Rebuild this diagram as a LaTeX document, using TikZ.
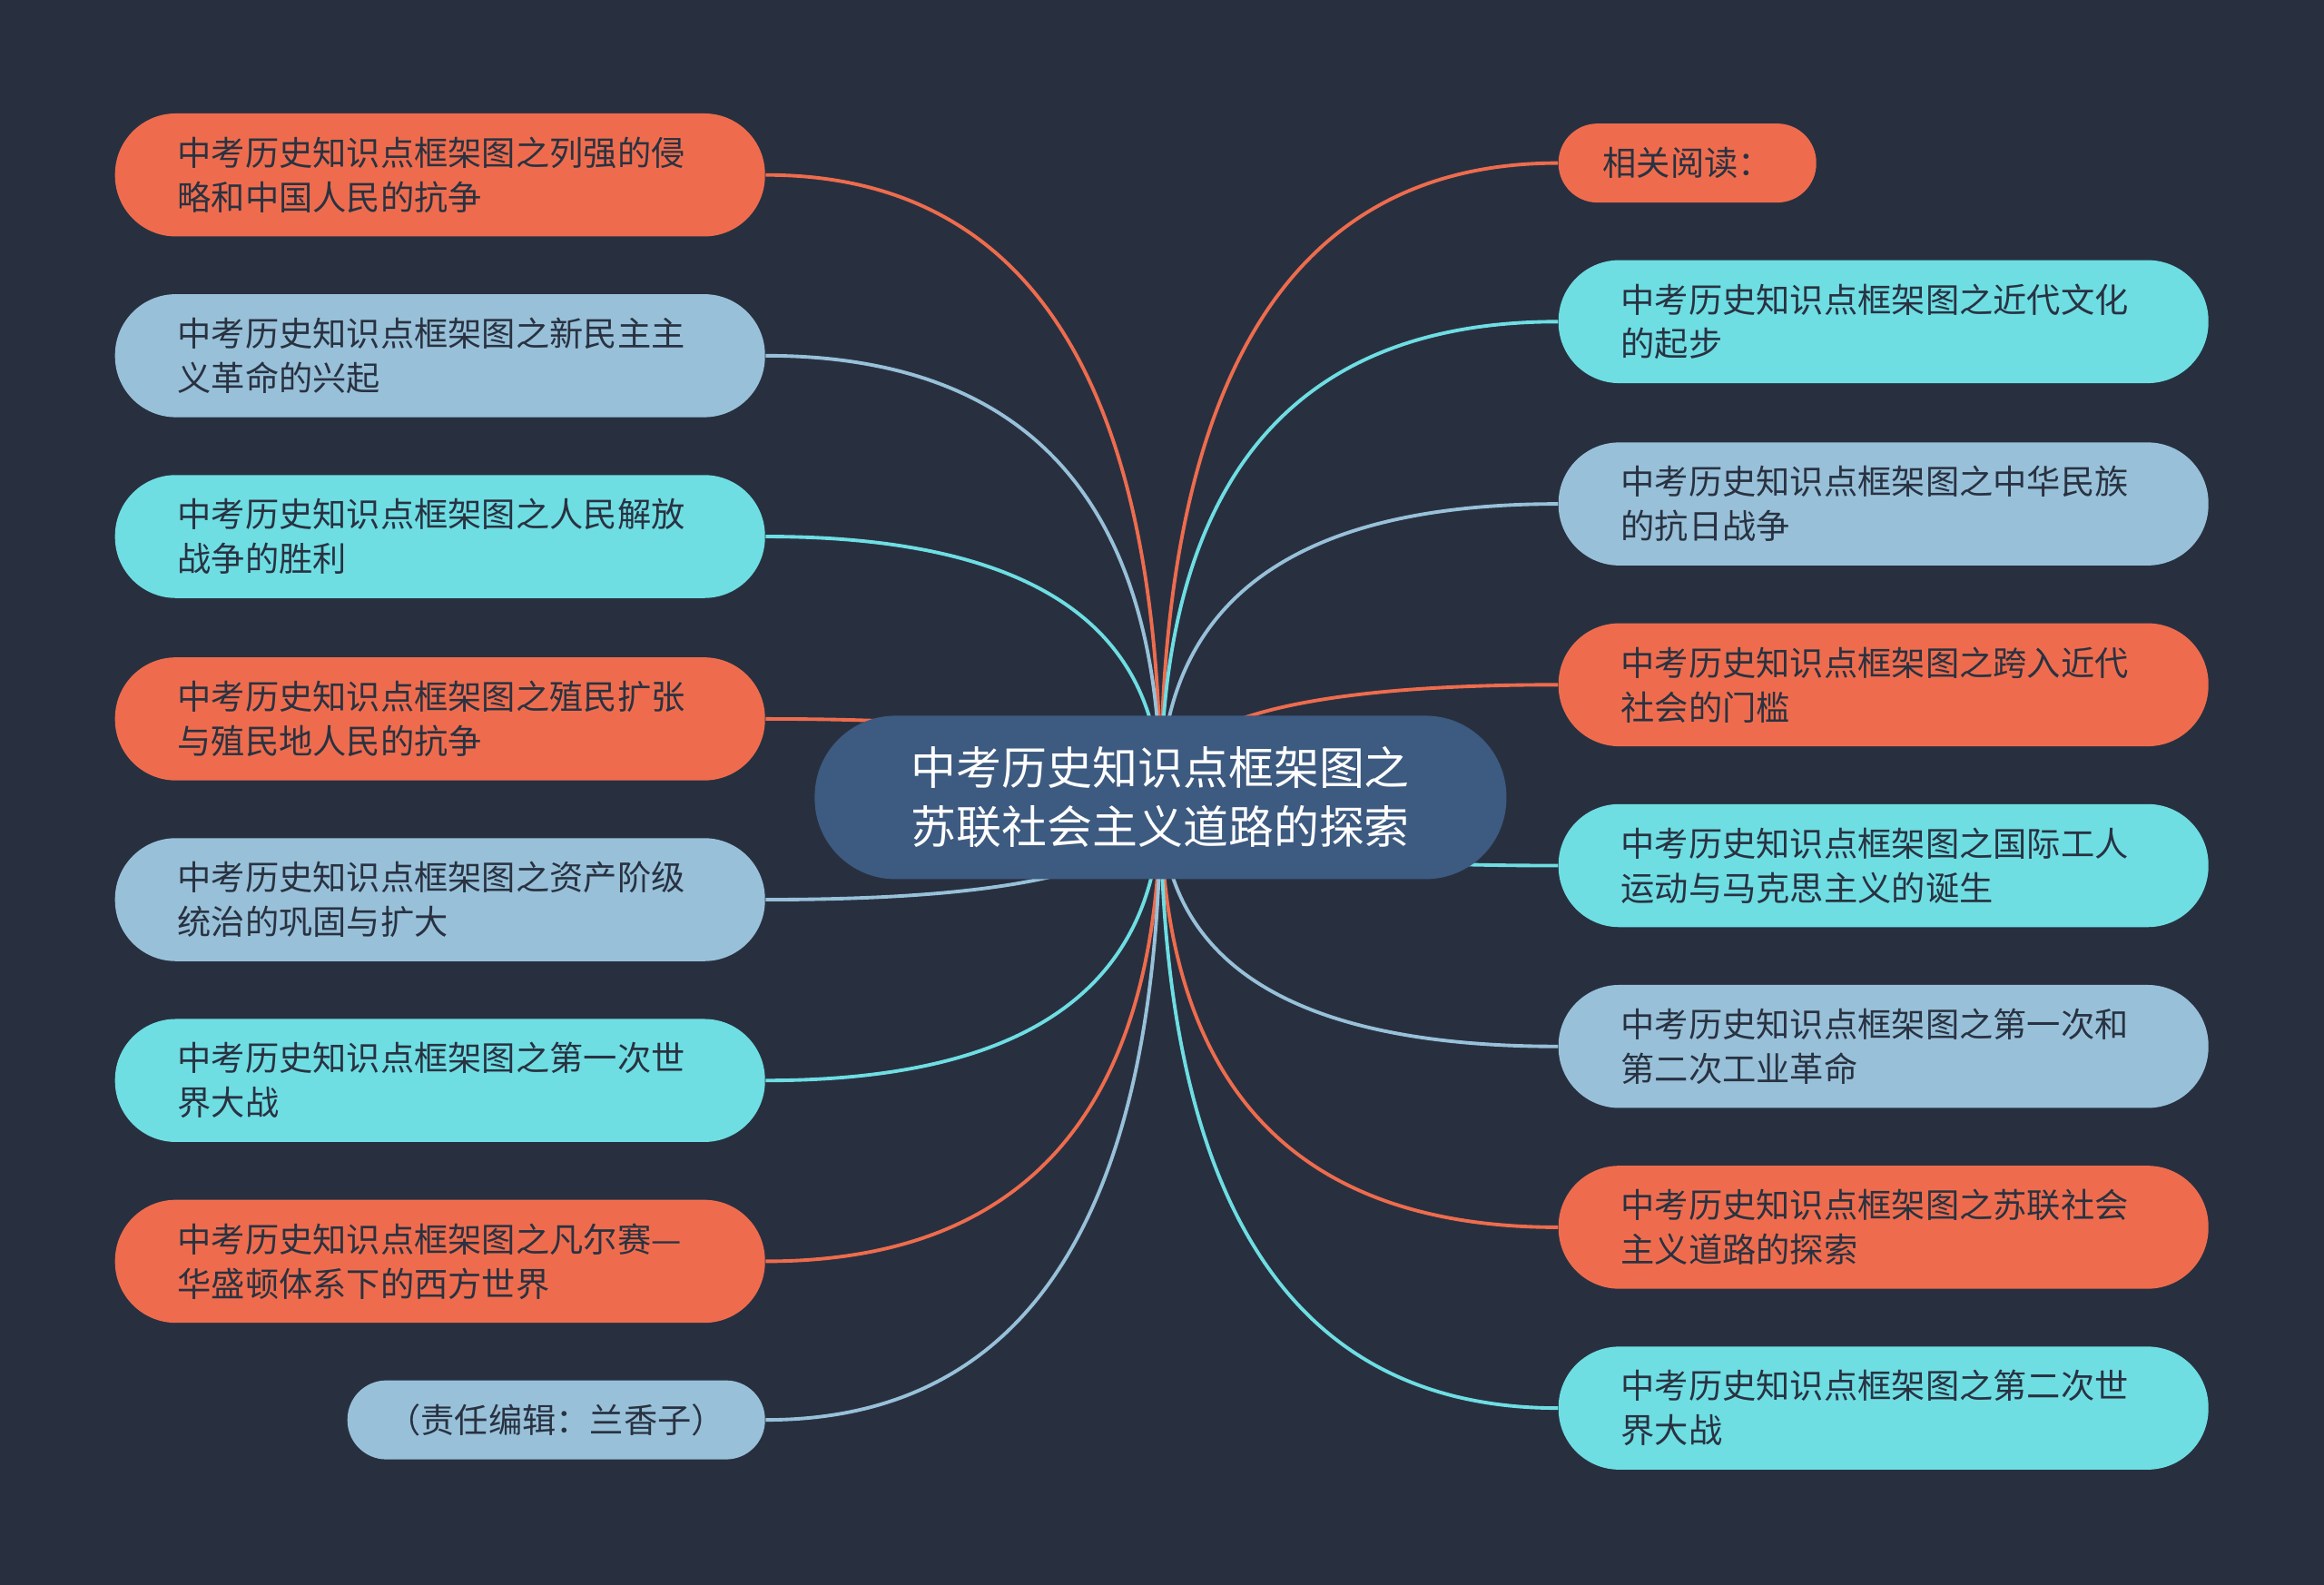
\documentclass[tikz,border=0pt]{standalone}
\usepackage{fontspec}
\setmainfont{Noto Sans CJK SC}
\usetikzlibrary{calc}

\definecolor{bgnavy}{HTML}{283040}
\definecolor{hubblue}{HTML}{3D5A80}
\definecolor{orng}{HTML}{EE6C4D}
\definecolor{paleblue}{HTML}{98C1D9}
\definecolor{aqua}{HTML}{6EDEE3}
\definecolor{inkdark}{HTML}{293241}

\pgfdeclarelayer{bg}
\pgfsetlayers{bg,main}

\tikzset{
  leaf/.style={rounded corners=0.67cm, minimum height=1.355cm, text width=5.78cm,
    inner xsep=0.69cm, align=left, anchor=west, text=inkdark,
    font=\fontsize{10.6}{13.9}\selectfont},
  tag/.style={rounded corners=0.43cm, minimum height=0.87cm, inner xsep=0.3cm,
    anchor=west, text=inkdark, font=\fontsize{10.6}{13.9}\selectfont},
  hub/.style={fill=hubblue, text=white, minimum width=7.62cm, minimum height=1.8cm,
    rounded corners=0.89cm, align=center, font=\fontsize{14.2}{18.5}\selectfont},
  link/.style={line width=1.1pt}
}

\begin{document}
\begin{tikzpicture}
  % Fundo
  \useasboundingbox (0,0) rectangle (25.6,-17.45);
  \begin{pgfonlayer}{bg}
    \fill[bgnavy] (-0.2,0.2) rectangle (25.8,-17.65);
  \end{pgfonlayer}
  % Centro
  \node[hub] (ctr) at (12.784,-8.784) {中考历史知识点框架图之\\苏联社会主义道路的探索};
  % Ramos da esquerda
  \node[leaf, fill=orng] (lf1) at (1.26,-1.927) {中考历史知识点框架图之列强的侵\\略和中国人民的抗争};
  \node[leaf, fill=paleblue] (lf2) at (1.26,-3.918) {中考历史知识点框架图之新民主主\\义革命的兴起};
  \node[leaf, fill=aqua] (lf3) at (1.26,-5.910) {中考历史知识点框架图之人民解放\\战争的胜利};
  \node[leaf, fill=orng] (lf4) at (1.26,-7.919) {中考历史知识点框架图之殖民扩张\\与殖民地人民的抗争};
  \node[leaf, fill=paleblue] (lf5) at (1.26,-9.910) {中考历史知识点框架图之资产阶级\\统治的巩固与扩大};
  \node[leaf, fill=aqua] (lf6) at (1.26,-11.902) {中考历史知识点框架图之第一次世\\界大战};
  \node[leaf, fill=orng] (lf7) at (1.26,-13.894) {中考历史知识点框架图之凡尔赛—\\华盛顿体系下的西方世界};
  \node[tag, fill=paleblue, minimum width=4.6cm] (lf8) at (3.82,-15.641) {（责任编辑：兰香子）};
  % Ramos da direita
  \node[tag, fill=orng, minimum width=2.84cm] (rt1) at (17.16,-1.796) {相关阅读：};
  \node[leaf, fill=aqua] (rt2) at (17.16,-3.543) {中考历史知识点框架图之近代文化\\的起步};
  \node[leaf, fill=paleblue] (rt3) at (17.16,-5.551) {中考历史知识点框架图之中华民族\\的抗日战争};
  \node[leaf, fill=orng] (rt4) at (17.16,-7.543) {中考历史知识点框架图之跨入近代\\社会的门槛};
  \node[leaf, fill=aqua] (rt5) at (17.16,-9.535) {中考历史知识点框架图之国际工人\\运动与马克思主义的诞生};
  \node[leaf, fill=paleblue] (rt6) at (17.16,-11.527) {中考历史知识点框架图之第一次和\\第二次工业革命};
  \node[leaf, fill=orng] (rt7) at (17.16,-13.519) {中考历史知识点框架图之苏联社会\\主义道路的探索};
  \node[leaf, fill=aqua] (rt8) at (17.16,-15.511) {中考历史知识点框架图之第二次世\\界大战};
  % Ligacoes
  \begin{pgfonlayer}{bg}
    \foreach \n/\a/\col in {lf1/east/orng, lf2/east/paleblue, lf3/east/aqua, lf4/east/orng,
        lf5/east/paleblue, lf6/east/aqua, lf7/east/orng, lf8/east/paleblue,
        rt1/west/orng, rt2/west/aqua, rt3/west/paleblue, rt4/west/orng,
        rt5/west/aqua, rt6/west/paleblue, rt7/west/orng, rt8/west/aqua} {
      \coordinate (k) at (ctr.center |- \n.\a);
      \draw[link, \col] (ctr.center) .. controls ($(ctr.center)!0.667!(k)$)
        and ($(\n.\a)!0.667!(k)$) .. (\n.\a);
    }
  \end{pgfonlayer}
\end{tikzpicture}
\end{document}
